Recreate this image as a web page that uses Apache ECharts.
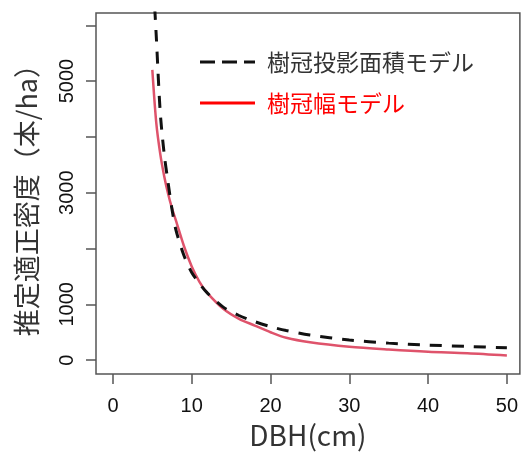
<!DOCTYPE html>
<html>
<head>
<meta charset="utf-8">
<script src="https://cdn.jsdelivr.net/npm/echarts@6/dist/echarts.min.js"></script>
<style>
  html, body { margin: 0; padding: 0; background: #fff; }
  #chart { width: 521px; height: 454px; }
</style>
</head>
<body>
<div id="chart"></div>
<script>
// Diameter at breast height (cm) and estimated stand density (stems/ha)
const projDbh = [5, 5.5, 6, 6.5, 7, 7.5, 8, 9, 10, 11, 12, 14, 16, 18, 20, 22, 25, 30, 35, 40, 45, 50];
const projDensity = [7100, 5800, 4450, 3700, 3180, 2700, 2330, 1880, 1570, 1370, 1200, 950, 800, 690, 600, 530, 450, 360, 305, 270, 245, 220];

const widthDbh = [5, 5.5, 6, 6.5, 7, 7.5, 8, 9, 10, 11, 12, 14, 16, 18, 20, 22, 25, 30, 35, 40, 45, 50];
const widthDensity = [5200, 4250, 3700, 3300, 2980, 2720, 2500, 2050, 1680, 1400, 1200, 920, 740, 620, 500, 400, 320, 240, 190, 150, 125, 85];

const xTicks = [0, 10, 20, 30, 40, 50];
const yTicks = [0, 1000, 2000, 3000, 4000, 5000, 6000];
const yTickLabels = [0, 1000, 3000, 5000];

const nameProj = '樹冠投影面積モデル';
const nameWidth = '樹冠幅モデル';

const chart = echarts.init(document.getElementById('chart'), null, { renderer: 'canvas' });

const latin = '"Liberation Sans", Arial, sans-serif';
const cjk = '"Noto Sans CJK JP", "Noto Sans", sans-serif';

// Hand-placed key in the upper right of the plot area
const keyItems = [
  { label: nameProj, y: 62, stroke: '#111', dash: [15, 7], textColor: '#333' },
  { label: nameWidth, y: 103, stroke: '#ff0000', dash: null, textColor: '#ff0000' }
];
const keyGraphics = [];
keyItems.forEach(k => {
  keyGraphics.push({
    type: 'line',
    shape: { x1: 200, y1: k.y, x2: 255, y2: k.y },
    style: { stroke: k.stroke, lineWidth: 3, lineDash: k.dash || null },
    z: 10
  });
  keyGraphics.push({
    type: 'text',
    x: 267, y: k.y,
    style: {
      text: k.label, fill: k.textColor, fontFamily: cjk, fontSize: 23,
      verticalAlign: 'middle', align: 'left'
    },
    z: 10
  });
});

chart.setOption({
  animation: false,
  backgroundColor: '#ffffff',
  grid: {
    left: 96, right: 1, top: 13, bottom: 79,
    show: true, borderColor: '#555', borderWidth: 1.5, backgroundColor: 'transparent'
  },
  xAxis: {
    type: 'value',
    min: -2.15, max: 51.65,
    name: 'DBH(cm)',
    nameLocation: 'middle',
    nameGap: 36,
    nameTextStyle: { fontFamily: cjk, fontSize: 28, color: '#333' },
    axisLine: { show: false, onZero: false },
    axisTick: { show: true, length: 10, lineStyle: { color: '#555', width: 1.5 }, customValues: xTicks },
    axisLabel: { fontFamily: latin, fontSize: 20, color: '#111', margin: 22, customValues: xTicks, formatter: v => String(v) },
    splitLine: { show: false }
  },
  yAxis: {
    type: 'value',
    min: -250, max: 6220,
    name: '推定適正密度（本/ha）',
    nameLocation: 'middle',
    nameRotate: 90,
    nameGap: 56,
    nameTextStyle: { fontFamily: cjk, fontSize: 27, color: '#333' },
    axisLine: { show: false, onZero: false },
    axisTick: { show: true, length: 10, lineStyle: { color: '#555', width: 1.5 }, customValues: yTicks },
    axisLabel: { fontFamily: latin, fontSize: 20, color: '#111', rotate: 90, margin: 19, customValues: yTickLabels, formatter: v => String(v) },
    splitLine: { show: false }
  },
  graphic: keyGraphics,
  series: [
    {
      name: nameProj,
      type: 'line',
      data: projDbh.map((d, i) => [d, projDensity[i]]),
      showSymbol: false,
      symbol: 'none',
      smooth: 0.3,
      clip: true,
      lineStyle: { color: '#111', width: 3, type: [12, 10] },
      z: 3
    },
    {
      name: nameWidth,
      type: 'line',
      data: widthDbh.map((d, i) => [d, widthDensity[i]]),
      showSymbol: false,
      symbol: 'none',
      smooth: 0.3,
      clip: true,
      lineStyle: { color: '#df536b', width: 2.5 },
      z: 2
    }
  ]
});
</script>
</body>
</html>
